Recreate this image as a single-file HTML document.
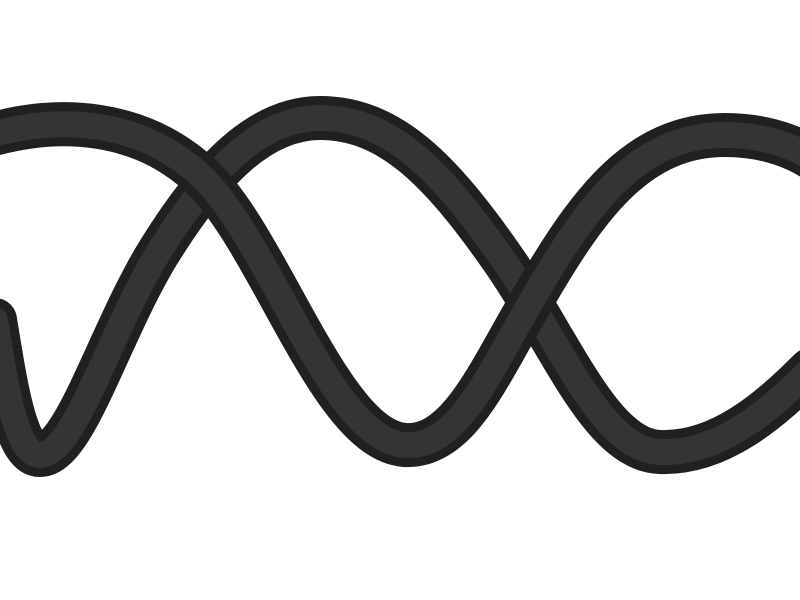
<!DOCTYPE html>
<html>
<head>
<meta charset="utf-8">
<style>
  html,body{margin:0;padding:0;background:#fff;}
  svg{display:block;}
</style>
</head>
<body>
<svg width="800" height="600" viewBox="0 0 800 600">
  <g fill="none" stroke-linecap="round">
    <path d="M -5 320 C 5 380, 15 455, 40 455 C 75 455, 110 330, 160 250 C 210 170, 260 118, 320 118 C 390 118, 440 170, 500 255 C 560 340, 600 450, 660 452 C 720 454, 770 410, 810 370"
          stroke="#202020" stroke-width="44"/>
    <path d="M -5 320 C 5 380, 15 455, 40 455 C 75 455, 110 330, 160 250 C 210 170, 260 118, 320 118 C 390 118, 440 170, 500 255 C 560 340, 600 450, 660 452 C 720 454, 770 410, 810 370"
          stroke="#3a3a3a" stroke-width="26" stroke-dasharray="2 3" opacity="0.8"/>
  </g>
  <g fill="none" stroke-linecap="round">
    <path d="M -10 135 C 60 115, 140 120, 200 175 C 270 240, 330 440, 405 445 C 460 448, 490 370, 535 295 C 590 200, 640 135, 725 135 C 770 135, 800 150, 815 160"
          stroke="#202020" stroke-width="44"/>
    <path d="M -10 135 C 60 115, 140 120, 200 175 C 270 240, 330 440, 405 445 C 460 448, 490 370, 535 295 C 590 200, 640 135, 725 135 C 770 135, 800 150, 815 160"
          stroke="#3a3a3a" stroke-width="26" stroke-dasharray="2 3" opacity="0.8"/>
  </g>
</svg>
</body>
</html>
